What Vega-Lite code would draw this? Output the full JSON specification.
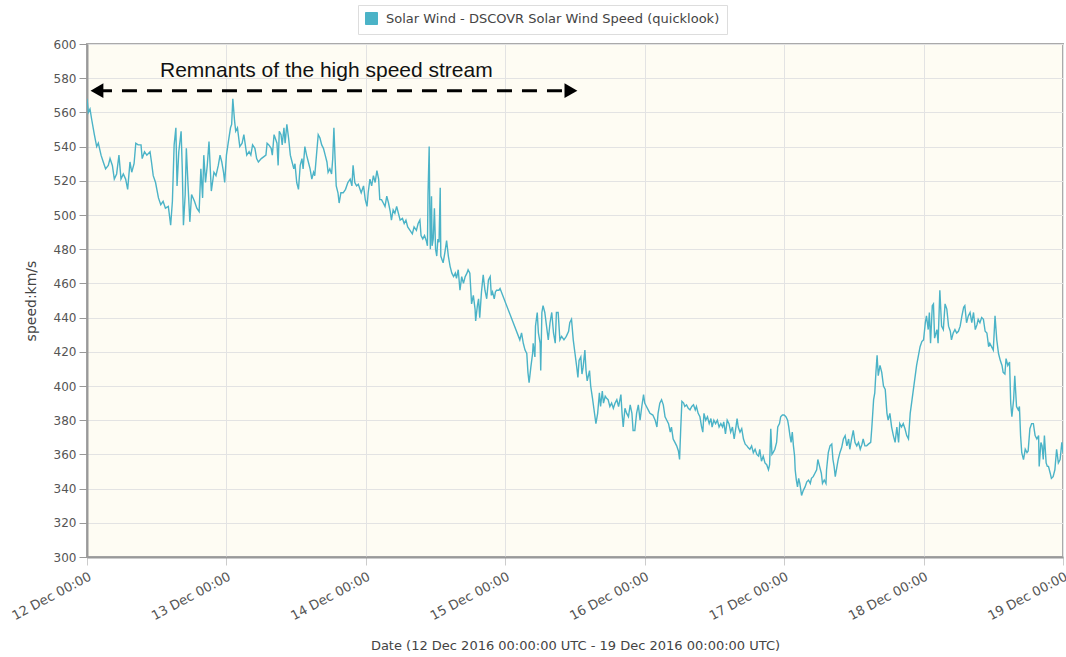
{
"$schema": "https://vega.github.io/schema/vega-lite/v6.json",
"width": 976, "height": 513,
"autosize": {"type": "none"},
"padding": {"left": 87, "top": 44, "right": 3, "bottom": 100},
"background": "white",
"config": {
  "font": "DejaVu Sans",
  "view": {"fill": "#fefcf3", "stroke": "#aaaaaa", "strokeWidth": 2}
},
"encoding": {
  "x": {"field": "t", "type": "temporal",
    "scale": {"type": "utc", "domain": [{"year": 2016, "month": 12, "date": 12, "utc": true}, {"year": 2016, "month": 12, "date": 19, "utc": true}]},
    "title": "Date (12 Dec 2016 00:00:00 UTC - 19 Dec 2016 00:00:00 UTC)",
    "axis": {
      "values": [{"year": 2016, "month": 12, "date": 12, "utc": true},{"year": 2016, "month": 12, "date": 13, "utc": true},{"year": 2016, "month": 12, "date": 14, "utc": true},{"year": 2016, "month": 12, "date": 15, "utc": true},{"year": 2016, "month": 12, "date": 16, "utc": true},{"year": 2016, "month": 12, "date": 17, "utc": true},{"year": 2016, "month": 12, "date": 18, "utc": true},{"year": 2016, "month": 12, "date": 19, "utc": true}],
      "labelExpr": "utcFormat(datum.value, '%d %b %H:%M')",
      "labelAngle": -28, "labelAlign": "right", "labelBaseline": "top", "labelPadding": 5, "labelDx": -4,
      "labelFontSize": 13, "labelColor": "#555555", "labelOverlap": false, "labelFlush": false, "labelBound": false,
      "tickSize": 8, "tickColor": "#cccccc",
      "grid": true, "gridColor": "#e3e3e3",
      "domainColor": "#999999", "domainWidth": 2,
      "titleFontSize": 13, "titleFontWeight": "normal", "titleColor": "#444444", "titleY": 88, "titleBaseline": "middle"
    }
  },
  "y": {"field": "v", "type": "quantitative",
    "scale": {"domain": [300, 600], "nice": false, "zero": false},
    "title": "speed:km/s",
    "axis": {
      "values": [300,320,340,360,380,400,420,440,460,480,500,520,540,560,580,600],
      "labelFontSize": 12, "labelColor": "#555555", "labelPadding": 3,
      "tickSize": 8, "tickColor": "#999999",
      "grid": true, "gridColor": "#e3e3e3",
      "domainColor": "#999999", "domainWidth": 2,
      "titleFontSize": 14, "titleFontWeight": "normal", "titleColor": "#444444", "titlePadding": 15
    }
  }
},
"layer": [
{
  "data": {"values": [
{"t":"2016-12-12T00:00Z","v":568},{"t":"2016-12-12T00:14Z","v":560},{"t":"2016-12-12T00:31Z","v":562},{"t":"2016-12-12T00:48Z","v":556},{"t":"2016-12-12T01:16Z","v":547},{"t":"2016-12-12T01:40Z","v":540},{"t":"2016-12-12T01:57Z","v":542},{"t":"2016-12-12T02:25Z","v":535},{"t":"2016-12-12T02:48Z","v":531},{"t":"2016-12-12T03:12Z","v":527},{"t":"2016-12-12T03:40Z","v":529},{"t":"2016-12-12T03:58Z","v":533},{"t":"2016-12-12T04:22Z","v":529},{"t":"2016-12-12T04:42Z","v":521},{"t":"2016-12-12T05:06Z","v":524},{"t":"2016-12-12T05:30Z","v":535},{"t":"2016-12-12T05:51Z","v":521},{"t":"2016-12-12T06:15Z","v":524},{"t":"2016-12-12T06:39Z","v":521},{"t":"2016-12-12T07:00Z","v":515},{"t":"2016-12-12T07:24Z","v":531},{"t":"2016-12-12T07:42Z","v":525},{"t":"2016-12-12T08:06Z","v":530},{"t":"2016-12-12T08:24Z","v":542},{"t":"2016-12-12T08:48Z","v":541},{"t":"2016-12-12T09:18Z","v":541},{"t":"2016-12-12T09:30Z","v":533},{"t":"2016-12-12T09:54Z","v":537},{"t":"2016-12-12T10:18Z","v":535},{"t":"2016-12-12T10:51Z","v":537},{"t":"2016-12-12T11:06Z","v":531},{"t":"2016-12-12T11:24Z","v":523},{"t":"2016-12-12T11:48Z","v":519},{"t":"2016-12-12T12:18Z","v":510},{"t":"2016-12-12T12:42Z","v":506},{"t":"2016-12-12T13:06Z","v":508},{"t":"2016-12-12T13:30Z","v":504},{"t":"2016-12-12T14:00Z","v":505},{"t":"2016-12-12T14:24Z","v":494},{"t":"2016-12-12T14:42Z","v":508},{"t":"2016-12-12T15:00Z","v":541},{"t":"2016-12-12T15:18Z","v":551},{"t":"2016-12-12T15:30Z","v":517},{"t":"2016-12-12T15:48Z","v":537},{"t":"2016-12-12T16:12Z","v":549},{"t":"2016-12-12T16:24Z","v":527},{"t":"2016-12-12T16:36Z","v":494},{"t":"2016-12-12T16:54Z","v":512},{"t":"2016-12-12T17:06Z","v":539},{"t":"2016-12-12T17:24Z","v":517},{"t":"2016-12-12T17:42Z","v":496},{"t":"2016-12-12T18:00Z","v":512},{"t":"2016-12-12T18:30Z","v":508},{"t":"2016-12-12T18:54Z","v":504},{"t":"2016-12-12T19:18Z","v":502},{"t":"2016-12-12T19:36Z","v":527},{"t":"2016-12-12T19:54Z","v":510},{"t":"2016-12-12T20:06Z","v":535},{"t":"2016-12-12T20:24Z","v":519},{"t":"2016-12-12T20:42Z","v":529},{"t":"2016-12-12T21:00Z","v":543},{"t":"2016-12-12T21:24Z","v":514},{"t":"2016-12-12T21:51Z","v":525},{"t":"2016-12-12T22:12Z","v":523},{"t":"2016-12-12T22:36Z","v":529},{"t":"2016-12-12T22:54Z","v":535},{"t":"2016-12-12T23:12Z","v":531},{"t":"2016-12-12T23:30Z","v":525},{"t":"2016-12-12T23:42Z","v":519},
{"t":"2016-12-13T00:00Z","v":535},{"t":"2016-12-13T00:18Z","v":542},{"t":"2016-12-13T00:42Z","v":551},{"t":"2016-12-13T00:54Z","v":553},{"t":"2016-12-13T01:06Z","v":568},{"t":"2016-12-13T01:24Z","v":555},{"t":"2016-12-13T01:36Z","v":549},{"t":"2016-12-13T01:54Z","v":551},{"t":"2016-12-13T02:18Z","v":540},{"t":"2016-12-13T02:42Z","v":542},{"t":"2016-12-13T03:00Z","v":547},{"t":"2016-12-13T03:30Z","v":535},{"t":"2016-12-13T03:54Z","v":537},{"t":"2016-12-13T04:12Z","v":535},{"t":"2016-12-13T04:30Z","v":541},{"t":"2016-12-13T04:54Z","v":539},{"t":"2016-12-13T05:12Z","v":533},{"t":"2016-12-13T05:30Z","v":531},{"t":"2016-12-13T06:00Z","v":533},{"t":"2016-12-13T06:24Z","v":534},{"t":"2016-12-13T06:48Z","v":535},{"t":"2016-12-13T07:00Z","v":542},{"t":"2016-12-13T07:18Z","v":541},{"t":"2016-12-13T07:42Z","v":539},{"t":"2016-12-13T07:54Z","v":535},{"t":"2016-12-13T08:12Z","v":547},{"t":"2016-12-13T08:30Z","v":544},{"t":"2016-12-13T08:42Z","v":542},{"t":"2016-12-13T08:54Z","v":529},{"t":"2016-12-13T09:06Z","v":549},{"t":"2016-12-13T09:24Z","v":547},{"t":"2016-12-13T09:36Z","v":541},{"t":"2016-12-13T09:54Z","v":551},{"t":"2016-12-13T10:06Z","v":542},{"t":"2016-12-13T10:24Z","v":553},{"t":"2016-12-13T10:42Z","v":545},{"t":"2016-12-13T11:00Z","v":535},{"t":"2016-12-13T11:18Z","v":531},{"t":"2016-12-13T11:36Z","v":527},{"t":"2016-12-13T11:48Z","v":530},{"t":"2016-12-13T12:06Z","v":519},{"t":"2016-12-13T12:24Z","v":515},{"t":"2016-12-13T12:42Z","v":529},{"t":"2016-12-13T13:00Z","v":533},{"t":"2016-12-13T13:12Z","v":527},{"t":"2016-12-13T13:30Z","v":540},{"t":"2016-12-13T13:48Z","v":535},{"t":"2016-12-13T14:06Z","v":531},{"t":"2016-12-13T14:24Z","v":527},{"t":"2016-12-13T14:42Z","v":521},{"t":"2016-12-13T15:00Z","v":525},{"t":"2016-12-13T15:12Z","v":523},{"t":"2016-12-13T15:30Z","v":535},{"t":"2016-12-13T15:48Z","v":547},{"t":"2016-12-13T16:06Z","v":545},{"t":"2016-12-13T16:24Z","v":541},{"t":"2016-12-13T16:42Z","v":539},{"t":"2016-12-13T17:00Z","v":535},{"t":"2016-12-13T17:18Z","v":531},{"t":"2016-12-13T17:30Z","v":525},{"t":"2016-12-13T17:48Z","v":527},{"t":"2016-12-13T18:06Z","v":524},{"t":"2016-12-13T18:18Z","v":533},{"t":"2016-12-13T18:30Z","v":551},{"t":"2016-12-13T18:42Z","v":533},{"t":"2016-12-13T18:54Z","v":517},{"t":"2016-12-13T19:12Z","v":513},{"t":"2016-12-13T19:24Z","v":507},{"t":"2016-12-13T19:42Z","v":513},{"t":"2016-12-13T20:06Z","v":513},{"t":"2016-12-13T20:30Z","v":515},{"t":"2016-12-13T20:54Z","v":519},{"t":"2016-12-13T21:18Z","v":521},{"t":"2016-12-13T21:36Z","v":517},{"t":"2016-12-13T21:48Z","v":529},{"t":"2016-12-13T22:06Z","v":519},{"t":"2016-12-13T22:24Z","v":517},{"t":"2016-12-13T22:42Z","v":518},{"t":"2016-12-13T23:12Z","v":513},{"t":"2016-12-13T23:36Z","v":517},{"t":"2016-12-13T23:54Z","v":509},
{"t":"2016-12-14T00:12Z","v":505},{"t":"2016-12-14T00:24Z","v":513},{"t":"2016-12-14T00:42Z","v":521},{"t":"2016-12-14T01:00Z","v":517},{"t":"2016-12-14T01:18Z","v":523},{"t":"2016-12-14T01:36Z","v":519},{"t":"2016-12-14T01:54Z","v":526},{"t":"2016-12-14T02:12Z","v":521},{"t":"2016-12-14T02:24Z","v":509},{"t":"2016-12-14T02:42Z","v":509},{"t":"2016-12-14T03:00Z","v":507},{"t":"2016-12-14T03:18Z","v":505},{"t":"2016-12-14T03:36Z","v":511},{"t":"2016-12-14T03:54Z","v":507},{"t":"2016-12-14T04:12Z","v":502},{"t":"2016-12-14T04:24Z","v":497},{"t":"2016-12-14T04:42Z","v":503},{"t":"2016-12-14T05:00Z","v":501},{"t":"2016-12-14T05:18Z","v":505},{"t":"2016-12-14T05:36Z","v":501},{"t":"2016-12-14T05:54Z","v":497},{"t":"2016-12-14T06:18Z","v":498},{"t":"2016-12-14T06:36Z","v":495},{"t":"2016-12-14T06:54Z","v":497},{"t":"2016-12-14T07:12Z","v":493},{"t":"2016-12-14T07:36Z","v":491},{"t":"2016-12-14T08:00Z","v":489},{"t":"2016-12-14T08:18Z","v":493},{"t":"2016-12-14T08:42Z","v":491},{"t":"2016-12-14T09:00Z","v":495},{"t":"2016-12-14T09:18Z","v":497},{"t":"2016-12-14T09:30Z","v":488},{"t":"2016-12-14T09:48Z","v":486},{"t":"2016-12-14T10:06Z","v":488},{"t":"2016-12-14T10:24Z","v":485},{"t":"2016-12-14T10:36Z","v":482},{"t":"2016-12-14T10:42Z","v":512},{"t":"2016-12-14T10:54Z","v":540},{"t":"2016-12-14T11:00Z","v":505},{"t":"2016-12-14T11:06Z","v":480},{"t":"2016-12-14T11:18Z","v":511},{"t":"2016-12-14T11:24Z","v":482},{"t":"2016-12-14T11:36Z","v":486},{"t":"2016-12-14T11:48Z","v":504},{"t":"2016-12-14T12:00Z","v":480},{"t":"2016-12-14T12:12Z","v":476},{"t":"2016-12-14T12:24Z","v":486},{"t":"2016-12-14T12:36Z","v":484},{"t":"2016-12-14T12:48Z","v":516},{"t":"2016-12-14T12:54Z","v":476},{"t":"2016-12-14T13:06Z","v":474},{"t":"2016-12-14T13:18Z","v":472},{"t":"2016-12-14T13:36Z","v":478},{"t":"2016-12-14T13:54Z","v":485},{"t":"2016-12-14T14:12Z","v":476},{"t":"2016-12-14T14:30Z","v":470},{"t":"2016-12-14T14:48Z","v":466},{"t":"2016-12-14T15:06Z","v":464},{"t":"2016-12-14T15:24Z","v":466},{"t":"2016-12-14T15:36Z","v":463},{"t":"2016-12-14T15:54Z","v":468},{"t":"2016-12-14T16:12Z","v":456},{"t":"2016-12-14T16:30Z","v":464},{"t":"2016-12-14T16:48Z","v":460},{"t":"2016-12-14T17:06Z","v":464},{"t":"2016-12-14T17:24Z","v":466},{"t":"2016-12-14T17:36Z","v":468},{"t":"2016-12-14T17:54Z","v":466},{"t":"2016-12-14T18:12Z","v":448},{"t":"2016-12-14T18:30Z","v":453},{"t":"2016-12-14T18:48Z","v":445},{"t":"2016-12-14T18:54Z","v":438},{"t":"2016-12-14T19:12Z","v":447},{"t":"2016-12-14T19:24Z","v":451},{"t":"2016-12-14T19:36Z","v":440},{"t":"2016-12-14T19:54Z","v":455},{"t":"2016-12-14T20:12Z","v":465},{"t":"2016-12-14T20:30Z","v":456},{"t":"2016-12-14T20:48Z","v":451},{"t":"2016-12-14T21:06Z","v":462},{"t":"2016-12-14T21:24Z","v":464},{"t":"2016-12-14T21:36Z","v":453},{"t":"2016-12-14T21:48Z","v":455},{"t":"2016-12-14T22:06Z","v":451},{"t":"2016-12-14T22:18Z","v":455},{"t":"2016-12-14T22:30Z","v":456},{"t":"2016-12-14T22:54Z","v":456},{"t":"2016-12-14T23:06Z","v":457},
{"t":"2016-12-15T02:30Z","v":427},{"t":"2016-12-15T02:48Z","v":431},{"t":"2016-12-15T03:06Z","v":425},{"t":"2016-12-15T03:24Z","v":421},{"t":"2016-12-15T03:42Z","v":419},{"t":"2016-12-15T03:54Z","v":408},{"t":"2016-12-15T04:06Z","v":402},{"t":"2016-12-15T04:24Z","v":411},{"t":"2016-12-15T04:42Z","v":419},{"t":"2016-12-15T04:48Z","v":425},{"t":"2016-12-15T05:06Z","v":417},{"t":"2016-12-15T05:12Z","v":435},{"t":"2016-12-15T05:30Z","v":443},{"t":"2016-12-15T05:42Z","v":431},{"t":"2016-12-15T06:00Z","v":425},{"t":"2016-12-15T06:06Z","v":409},{"t":"2016-12-15T06:18Z","v":443},{"t":"2016-12-15T06:30Z","v":447},{"t":"2016-12-15T06:48Z","v":443},{"t":"2016-12-15T07:06Z","v":435},{"t":"2016-12-15T07:24Z","v":427},{"t":"2016-12-15T07:42Z","v":437},{"t":"2016-12-15T08:00Z","v":443},{"t":"2016-12-15T08:18Z","v":431},{"t":"2016-12-15T08:36Z","v":425},{"t":"2016-12-15T08:48Z","v":443},{"t":"2016-12-15T09:06Z","v":443},{"t":"2016-12-15T09:24Z","v":427},{"t":"2016-12-15T09:42Z","v":429},{"t":"2016-12-15T10:06Z","v":427},{"t":"2016-12-15T10:30Z","v":429},{"t":"2016-12-15T10:54Z","v":432},{"t":"2016-12-15T11:06Z","v":437},{"t":"2016-12-15T11:24Z","v":439},{"t":"2016-12-15T11:42Z","v":427},{"t":"2016-12-15T12:00Z","v":419},{"t":"2016-12-15T12:18Z","v":411},{"t":"2016-12-15T12:30Z","v":405},{"t":"2016-12-15T12:42Z","v":415},{"t":"2016-12-15T13:00Z","v":417},{"t":"2016-12-15T13:12Z","v":407},{"t":"2016-12-15T13:24Z","v":411},{"t":"2016-12-15T13:42Z","v":421},{"t":"2016-12-15T13:54Z","v":409},{"t":"2016-12-15T14:06Z","v":403},{"t":"2016-12-15T14:30Z","v":409},{"t":"2016-12-15T14:42Z","v":400},{"t":"2016-12-15T15:00Z","v":393},{"t":"2016-12-15T15:12Z","v":388},{"t":"2016-12-15T15:36Z","v":378},{"t":"2016-12-15T15:54Z","v":384},{"t":"2016-12-15T16:12Z","v":396},{"t":"2016-12-15T16:24Z","v":388},{"t":"2016-12-15T16:42Z","v":397},{"t":"2016-12-15T16:54Z","v":390},{"t":"2016-12-15T17:12Z","v":394},{"t":"2016-12-15T17:24Z","v":393},{"t":"2016-12-15T17:42Z","v":392},{"t":"2016-12-15T18:00Z","v":388},{"t":"2016-12-15T18:18Z","v":390},{"t":"2016-12-15T18:36Z","v":387},{"t":"2016-12-15T18:54Z","v":390},{"t":"2016-12-15T19:12Z","v":392},{"t":"2016-12-15T19:30Z","v":388},{"t":"2016-12-15T19:54Z","v":395},{"t":"2016-12-15T20:06Z","v":384},{"t":"2016-12-15T20:18Z","v":376},{"t":"2016-12-15T20:36Z","v":387},{"t":"2016-12-15T20:54Z","v":384},{"t":"2016-12-15T21:12Z","v":382},{"t":"2016-12-15T21:30Z","v":389},{"t":"2016-12-15T21:48Z","v":384},{"t":"2016-12-15T22:00Z","v":374},{"t":"2016-12-15T22:18Z","v":374},{"t":"2016-12-15T22:36Z","v":384},{"t":"2016-12-15T22:54Z","v":389},{"t":"2016-12-15T23:12Z","v":380},{"t":"2016-12-15T23:30Z","v":388},{"t":"2016-12-15T23:48Z","v":395},
{"t":"2016-12-16T00:00Z","v":390},{"t":"2016-12-16T00:18Z","v":388},{"t":"2016-12-16T00:36Z","v":386},{"t":"2016-12-16T00:54Z","v":384},{"t":"2016-12-16T01:24Z","v":383},{"t":"2016-12-16T01:48Z","v":380},{"t":"2016-12-16T02:06Z","v":376},{"t":"2016-12-16T02:18Z","v":384},{"t":"2016-12-16T02:36Z","v":390},{"t":"2016-12-16T02:54Z","v":392},{"t":"2016-12-16T03:12Z","v":389},{"t":"2016-12-16T03:30Z","v":382},{"t":"2016-12-16T03:48Z","v":380},{"t":"2016-12-16T04:06Z","v":378},{"t":"2016-12-16T04:24Z","v":373},{"t":"2016-12-16T04:36Z","v":376},{"t":"2016-12-16T04:54Z","v":369},{"t":"2016-12-16T05:12Z","v":367},{"t":"2016-12-16T05:30Z","v":365},{"t":"2016-12-16T05:48Z","v":362},{"t":"2016-12-16T06:00Z","v":357},{"t":"2016-12-16T06:12Z","v":375},{"t":"2016-12-16T06:24Z","v":391},{"t":"2016-12-16T06:42Z","v":390},{"t":"2016-12-16T06:54Z","v":388},{"t":"2016-12-16T07:12Z","v":389},{"t":"2016-12-16T07:30Z","v":387},{"t":"2016-12-16T07:48Z","v":386},{"t":"2016-12-16T08:06Z","v":388},{"t":"2016-12-16T08:24Z","v":389},{"t":"2016-12-16T08:42Z","v":386},{"t":"2016-12-16T08:54Z","v":388},{"t":"2016-12-16T09:12Z","v":384},{"t":"2016-12-16T09:30Z","v":382},{"t":"2016-12-16T09:48Z","v":376},{"t":"2016-12-16T10:00Z","v":373},{"t":"2016-12-16T10:12Z","v":384},{"t":"2016-12-16T10:30Z","v":380},{"t":"2016-12-16T10:48Z","v":382},{"t":"2016-12-16T11:06Z","v":378},{"t":"2016-12-16T11:24Z","v":381},{"t":"2016-12-16T11:36Z","v":376},{"t":"2016-12-16T11:54Z","v":380},{"t":"2016-12-16T12:12Z","v":378},{"t":"2016-12-16T12:30Z","v":380},{"t":"2016-12-16T12:48Z","v":376},{"t":"2016-12-16T13:06Z","v":378},{"t":"2016-12-16T13:24Z","v":376},{"t":"2016-12-16T13:36Z","v":379},{"t":"2016-12-16T13:54Z","v":372},{"t":"2016-12-16T14:12Z","v":380},{"t":"2016-12-16T14:30Z","v":378},{"t":"2016-12-16T14:48Z","v":373},{"t":"2016-12-16T15:06Z","v":376},{"t":"2016-12-16T15:24Z","v":369},{"t":"2016-12-16T15:42Z","v":376},{"t":"2016-12-16T15:54Z","v":381},{"t":"2016-12-16T16:06Z","v":376},{"t":"2016-12-16T16:24Z","v":373},{"t":"2016-12-16T16:42Z","v":375},{"t":"2016-12-16T17:00Z","v":369},{"t":"2016-12-16T17:18Z","v":366},{"t":"2016-12-16T17:36Z","v":365},{"t":"2016-12-16T17:48Z","v":364},{"t":"2016-12-16T18:06Z","v":363},{"t":"2016-12-16T18:24Z","v":365},{"t":"2016-12-16T18:42Z","v":361},{"t":"2016-12-16T19:00Z","v":363},{"t":"2016-12-16T19:18Z","v":360},{"t":"2016-12-16T19:36Z","v":359},{"t":"2016-12-16T19:48Z","v":363},{"t":"2016-12-16T20:06Z","v":356},{"t":"2016-12-16T20:24Z","v":359},{"t":"2016-12-16T20:42Z","v":355},{"t":"2016-12-16T21:00Z","v":354},{"t":"2016-12-16T21:18Z","v":351},{"t":"2016-12-16T21:30Z","v":354},{"t":"2016-12-16T21:42Z","v":375},{"t":"2016-12-16T21:54Z","v":360},{"t":"2016-12-16T22:06Z","v":361},{"t":"2016-12-16T22:24Z","v":363},{"t":"2016-12-16T22:42Z","v":367},{"t":"2016-12-16T22:54Z","v":376},{"t":"2016-12-16T23:12Z","v":378},{"t":"2016-12-16T23:24Z","v":382},{"t":"2016-12-16T23:42Z","v":383},
{"t":"2016-12-17T00:00Z","v":383},{"t":"2016-12-17T00:18Z","v":382},{"t":"2016-12-17T00:36Z","v":380},{"t":"2016-12-17T00:48Z","v":376},{"t":"2016-12-17T01:00Z","v":371},{"t":"2016-12-17T01:12Z","v":367},{"t":"2016-12-17T01:24Z","v":373},{"t":"2016-12-17T01:36Z","v":365},{"t":"2016-12-17T01:48Z","v":359},{"t":"2016-12-17T01:54Z","v":351},{"t":"2016-12-17T02:06Z","v":345},{"t":"2016-12-17T02:18Z","v":341},{"t":"2016-12-17T02:30Z","v":346},{"t":"2016-12-17T02:42Z","v":343},{"t":"2016-12-17T03:00Z","v":336},{"t":"2016-12-17T03:18Z","v":339},{"t":"2016-12-17T03:36Z","v":341},{"t":"2016-12-17T03:54Z","v":344},{"t":"2016-12-17T04:12Z","v":345},{"t":"2016-12-17T04:30Z","v":343},{"t":"2016-12-17T04:42Z","v":346},{"t":"2016-12-17T05:00Z","v":347},{"t":"2016-12-17T05:18Z","v":349},{"t":"2016-12-17T05:36Z","v":351},{"t":"2016-12-17T05:48Z","v":357},{"t":"2016-12-17T06:06Z","v":353},{"t":"2016-12-17T06:24Z","v":349},{"t":"2016-12-17T06:36Z","v":343},{"t":"2016-12-17T06:54Z","v":345},{"t":"2016-12-17T07:12Z","v":343},{"t":"2016-12-17T07:18Z","v":351},{"t":"2016-12-17T07:36Z","v":361},{"t":"2016-12-17T07:54Z","v":365},{"t":"2016-12-17T08:12Z","v":366},{"t":"2016-12-17T08:24Z","v":357},{"t":"2016-12-17T08:36Z","v":353},{"t":"2016-12-17T08:48Z","v":347},{"t":"2016-12-17T09:06Z","v":353},{"t":"2016-12-17T09:18Z","v":357},{"t":"2016-12-17T09:36Z","v":361},{"t":"2016-12-17T09:54Z","v":364},{"t":"2016-12-17T10:12Z","v":369},{"t":"2016-12-17T10:30Z","v":371},{"t":"2016-12-17T10:48Z","v":365},{"t":"2016-12-17T11:06Z","v":369},{"t":"2016-12-17T11:18Z","v":363},{"t":"2016-12-17T11:36Z","v":369},{"t":"2016-12-17T11:54Z","v":374},{"t":"2016-12-17T12:12Z","v":367},{"t":"2016-12-17T12:30Z","v":365},{"t":"2016-12-17T12:48Z","v":367},{"t":"2016-12-17T13:06Z","v":363},{"t":"2016-12-17T13:24Z","v":366},{"t":"2016-12-17T13:36Z","v":369},{"t":"2016-12-17T13:54Z","v":365},{"t":"2016-12-17T14:12Z","v":365},{"t":"2016-12-17T14:30Z","v":366},{"t":"2016-12-17T14:54Z","v":367},{"t":"2016-12-17T15:06Z","v":376},{"t":"2016-12-17T15:24Z","v":392},{"t":"2016-12-17T15:36Z","v":396},{"t":"2016-12-17T15:48Z","v":408},{"t":"2016-12-17T16:00Z","v":418},{"t":"2016-12-17T16:12Z","v":406},{"t":"2016-12-17T16:30Z","v":412},{"t":"2016-12-17T16:48Z","v":408},{"t":"2016-12-17T17:06Z","v":400},{"t":"2016-12-17T17:24Z","v":398},{"t":"2016-12-17T17:42Z","v":384},{"t":"2016-12-17T17:54Z","v":380},{"t":"2016-12-17T18:12Z","v":384},{"t":"2016-12-17T18:30Z","v":376},{"t":"2016-12-17T18:48Z","v":371},{"t":"2016-12-17T19:06Z","v":367},{"t":"2016-12-17T19:24Z","v":376},{"t":"2016-12-17T19:42Z","v":367},{"t":"2016-12-17T19:54Z","v":378},{"t":"2016-12-17T20:12Z","v":376},{"t":"2016-12-17T20:30Z","v":378},{"t":"2016-12-17T20:48Z","v":375},{"t":"2016-12-17T21:06Z","v":371},{"t":"2016-12-17T21:24Z","v":369},{"t":"2016-12-17T21:42Z","v":384},{"t":"2016-12-17T22:48Z","v":412},{"t":"2016-12-17T23:24Z","v":423},{"t":"2016-12-17T23:42Z","v":426},
{"t":"2016-12-18T00:00Z","v":427},{"t":"2016-12-18T00:18Z","v":437},{"t":"2016-12-18T00:30Z","v":441},{"t":"2016-12-18T00:48Z","v":433},{"t":"2016-12-18T01:00Z","v":443},{"t":"2016-12-18T01:12Z","v":425},{"t":"2016-12-18T01:30Z","v":447},{"t":"2016-12-18T01:42Z","v":448},{"t":"2016-12-18T01:54Z","v":428},{"t":"2016-12-18T02:18Z","v":433},{"t":"2016-12-18T02:30Z","v":425},{"t":"2016-12-18T02:48Z","v":456},{"t":"2016-12-18T03:06Z","v":435},{"t":"2016-12-18T03:24Z","v":433},{"t":"2016-12-18T03:42Z","v":448},{"t":"2016-12-18T04:00Z","v":445},{"t":"2016-12-18T04:18Z","v":435},{"t":"2016-12-18T04:36Z","v":432},{"t":"2016-12-18T04:48Z","v":427},{"t":"2016-12-18T05:06Z","v":431},{"t":"2016-12-18T05:24Z","v":433},{"t":"2016-12-18T05:42Z","v":431},{"t":"2016-12-18T06:00Z","v":432},{"t":"2016-12-18T06:18Z","v":435},{"t":"2016-12-18T06:36Z","v":441},{"t":"2016-12-18T06:54Z","v":446},{"t":"2016-12-18T07:06Z","v":447},{"t":"2016-12-18T07:24Z","v":437},{"t":"2016-12-18T07:42Z","v":441},{"t":"2016-12-18T08:00Z","v":443},{"t":"2016-12-18T08:18Z","v":437},{"t":"2016-12-18T08:36Z","v":443},{"t":"2016-12-18T08:54Z","v":433},{"t":"2016-12-18T09:12Z","v":436},{"t":"2016-12-18T09:24Z","v":439},{"t":"2016-12-18T09:42Z","v":437},{"t":"2016-12-18T10:00Z","v":440},{"t":"2016-12-18T10:18Z","v":439},{"t":"2016-12-18T10:36Z","v":432},{"t":"2016-12-18T10:54Z","v":431},{"t":"2016-12-18T11:12Z","v":423},{"t":"2016-12-18T11:24Z","v":425},{"t":"2016-12-18T11:42Z","v":423},{"t":"2016-12-18T12:00Z","v":421},{"t":"2016-12-18T12:18Z","v":441},{"t":"2016-12-18T12:36Z","v":427},{"t":"2016-12-18T12:54Z","v":419},{"t":"2016-12-18T13:12Z","v":415},{"t":"2016-12-18T13:30Z","v":412},{"t":"2016-12-18T13:42Z","v":408},{"t":"2016-12-18T14:00Z","v":407},{"t":"2016-12-18T14:12Z","v":416},{"t":"2016-12-18T14:30Z","v":412},{"t":"2016-12-18T14:48Z","v":414},{"t":"2016-12-18T15:00Z","v":390},{"t":"2016-12-18T15:12Z","v":382},{"t":"2016-12-18T15:30Z","v":392},{"t":"2016-12-18T15:42Z","v":406},{"t":"2016-12-18T16:00Z","v":388},{"t":"2016-12-18T16:18Z","v":386},{"t":"2016-12-18T16:30Z","v":388},{"t":"2016-12-18T16:42Z","v":371},{"t":"2016-12-18T16:54Z","v":361},{"t":"2016-12-18T17:12Z","v":357},{"t":"2016-12-18T17:30Z","v":363},{"t":"2016-12-18T17:48Z","v":361},{"t":"2016-12-18T18:00Z","v":362},{"t":"2016-12-18T18:18Z","v":375},{"t":"2016-12-18T18:36Z","v":378},{"t":"2016-12-18T18:54Z","v":378},{"t":"2016-12-18T19:12Z","v":371},{"t":"2016-12-18T19:30Z","v":369},{"t":"2016-12-18T19:48Z","v":371},{"t":"2016-12-18T19:54Z","v":353},{"t":"2016-12-18T20:12Z","v":367},{"t":"2016-12-18T20:24Z","v":365},{"t":"2016-12-18T20:36Z","v":357},{"t":"2016-12-18T20:48Z","v":371},{"t":"2016-12-18T21:06Z","v":355},{"t":"2016-12-18T21:18Z","v":353},{"t":"2016-12-18T21:30Z","v":353},{"t":"2016-12-18T21:48Z","v":349},{"t":"2016-12-18T22:00Z","v":346},{"t":"2016-12-18T22:18Z","v":347},{"t":"2016-12-18T22:36Z","v":351},{"t":"2016-12-18T22:54Z","v":363},{"t":"2016-12-18T23:12Z","v":355},{"t":"2016-12-18T23:30Z","v":357},{"t":"2016-12-18T23:48Z","v":367},{"t":"2016-12-19T00:00Z","v":361}
  ]},
  "mark": {"type": "line", "strokeWidth": 1.4, "clip": true},
  "encoding": {
    "color": {"datum": "Solar Wind - DSCOVR Solar Wind Speed (quicklook)", "type": "nominal",
      "scale": {"range": ["#4bb3c7"]},
      "legend": {"title": null, "orient": "none", "legendX": 271, "legendY": -39, "symbolType": "square", "symbolSize": 144,
        "symbolFillColor": "#4bb3c7", "symbolStrokeColor": "#4bb3c7", "symbolStrokeWidth": 1, "symbolOpacity": 1,
        "labelFontSize": 13, "labelOffset": 8, "labelColor": "#444444", "labelFont": "DejaVu Sans", "padding": 7, "strokeColor": "#dddddd", "fillColor": "#ffffff", "labelLimit": 500}
    }
  }
},
{
  "data": {"values": [{"t": "2016-12-12T01:43Z", "t2": "2016-12-15T11:18Z", "v": 572.7}]},
  "mark": {"type": "rule", "color": "#000000", "strokeWidth": 3, "strokeDash": [15, 10]},
  "encoding": {"x2": {"field": "t2"}}
},
{
  "data": {"values": [{"t": "2016-12-12T01:43Z", "v": 572.7}]},
  "mark": {"type": "point", "shape": "triangle-left", "filled": true, "color": "#000000", "opacity": 1, "size": 220},
  "encoding": {}
},
{
  "data": {"values": [{"t": "2016-12-15T11:18Z", "v": 572.7}]},
  "mark": {"type": "point", "shape": "triangle-right", "filled": true, "color": "#000000", "opacity": 1, "size": 220},
  "encoding": {}
},
{
  "data": {"values": [{"t": "2016-12-13T17:12Z", "v": 584, "label": "Remnants of the high speed stream"}]},
  "mark": {"type": "text", "font": "Liberation Sans", "fontSize": 21, "color": "#111111", "align": "center", "baseline": "middle"},
  "encoding": {"text": {"field": "label"}}
}
]
}
